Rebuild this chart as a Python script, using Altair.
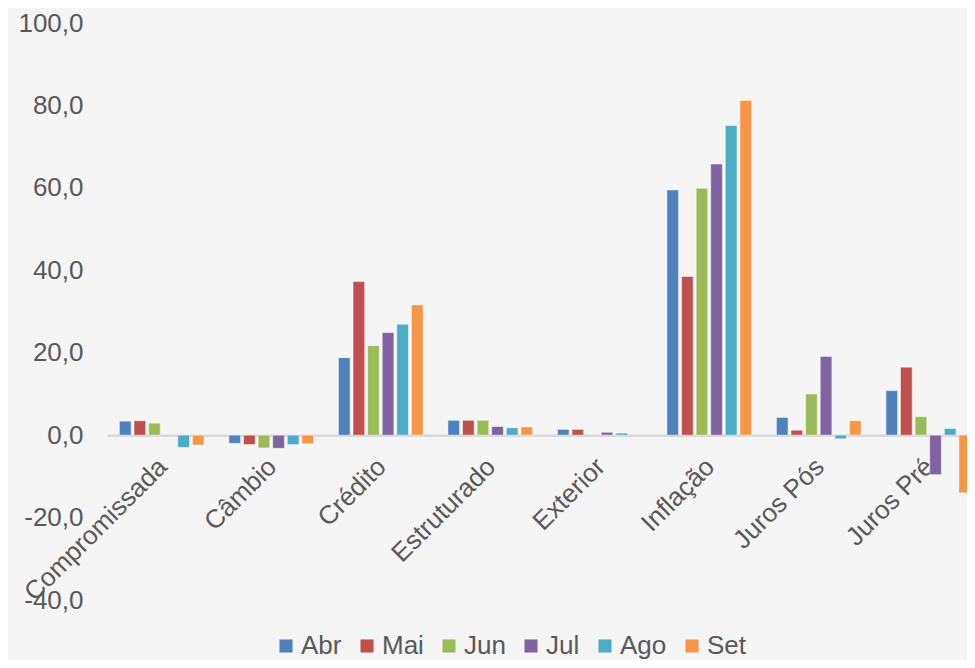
import altair as alt
import pandas as pd

categories = ["Compromissada", "Câmbio", "Crédito", "Estruturado", "Exterior", "Inflação", "Juros Pós", "Juros Pré"]
series = ["Abr", "Mai", "Jun", "Jul", "Ago", "Set"]
colors = ["#4F81BD", "#C0504D", "#9BBB59", "#8064A2", "#4BACC6", "#F79646"]

abr = [3.4, -2.0, 18.8, 3.6, 1.4, 59.5, 4.3, 10.8]
mai = [3.5, -2.3, 37.3, 3.6, 1.4, 38.5, 1.2, 16.5]
jun = [2.9, -3.1, 21.7, 3.6, 0.0, 59.9, 10.0, 4.5]
jul = [0.0, -3.2, 24.9, 2.1, 0.7, 65.8, 19.1, -9.6]
ago = [-3.0, -2.3, 26.9, 1.8, 0.5, 75.1, -0.9, 1.6]
set_ = [-2.4, -2.1, 31.6, 2.0, 0.0, 81.2, 3.5, -14.0]

y_ticks = [-40, -20, 0, 20, 40, 60, 80, 100]

rows = []
for s, vals in zip(series, [abr, mai, jun, jul, ago, set_]):
    for c, v in zip(categories, vals):
        rows.append({"categoria": c, "serie": s, "valor": v})
df = pd.DataFrame(rows)

FONT = "Liberation Sans"
GREY = "#595959"
H = 577
ZERO_OFFSET = -(H * 40 / 140)

chart = alt.Chart(df).transform_filter("datum.valor != 0").mark_bar(
    stroke="white", strokeWidth=1, strokeOpacity=0.5
).encode(
    x=alt.X(
        "categoria:N",
        sort=categories,
        scale=alt.Scale(domain=categories, paddingInner=0.2, paddingOuter=0.1),
        axis=alt.Axis(
            title=None, labelAngle=-45, labelAlign="right", labelBaseline="top",
            labelFontSize=26, labelColor=GREY, labelFont=FONT, offset=ZERO_OFFSET,
            domainColor="#d9d9d9", domainWidth=2.5, ticks=False, labelPadding=18,
            labelOffset=-8, labelOverlap=False, labelLimit=400,
        ),
    ),
    xOffset=alt.XOffset(
        "serie:N", sort=series,
        scale=alt.Scale(domain=series, paddingInner=0.2, paddingOuter=0.1),
    ),
    y=alt.Y(
        "valor:Q",
        scale=alt.Scale(domain=[-40, 100], nice=False),
        axis=alt.Axis(
            title=None, values=y_ticks, grid=False, domain=False, ticks=False,
            labelFontSize=26, labelColor=GREY, labelFont=FONT, labelPadding=24,
            labelExpr="(datum.value < 0 ? '-' : '') + replace(format(abs(datum.value), '.1f'), '.', ',')",
        ),
    ),
    color=alt.Color(
        "serie:N", sort=series,
        scale=alt.Scale(domain=series, range=colors),
        legend=alt.Legend(
            title=None, orient="none", legendX=166, legendY=610, direction="horizontal",
            symbolType="square", symbolSize=170, symbolStrokeWidth=0,
            labelFontSize=26, labelColor=GREY, labelFont=FONT,
            columnPadding=12, labelOffset=2, padding=0,
        ),
    ),
).properties(
    width=876, height=H,
    autosize=alt.AutoSizeParams(type="none"),
    padding={"left": 99, "top": 15, "right": -16, "bottom": 60},
    background="#f5f5f6",
).configure_view(stroke=None)

chart.save("out.html", embed_options={"renderer": "svg", "actions": False})
